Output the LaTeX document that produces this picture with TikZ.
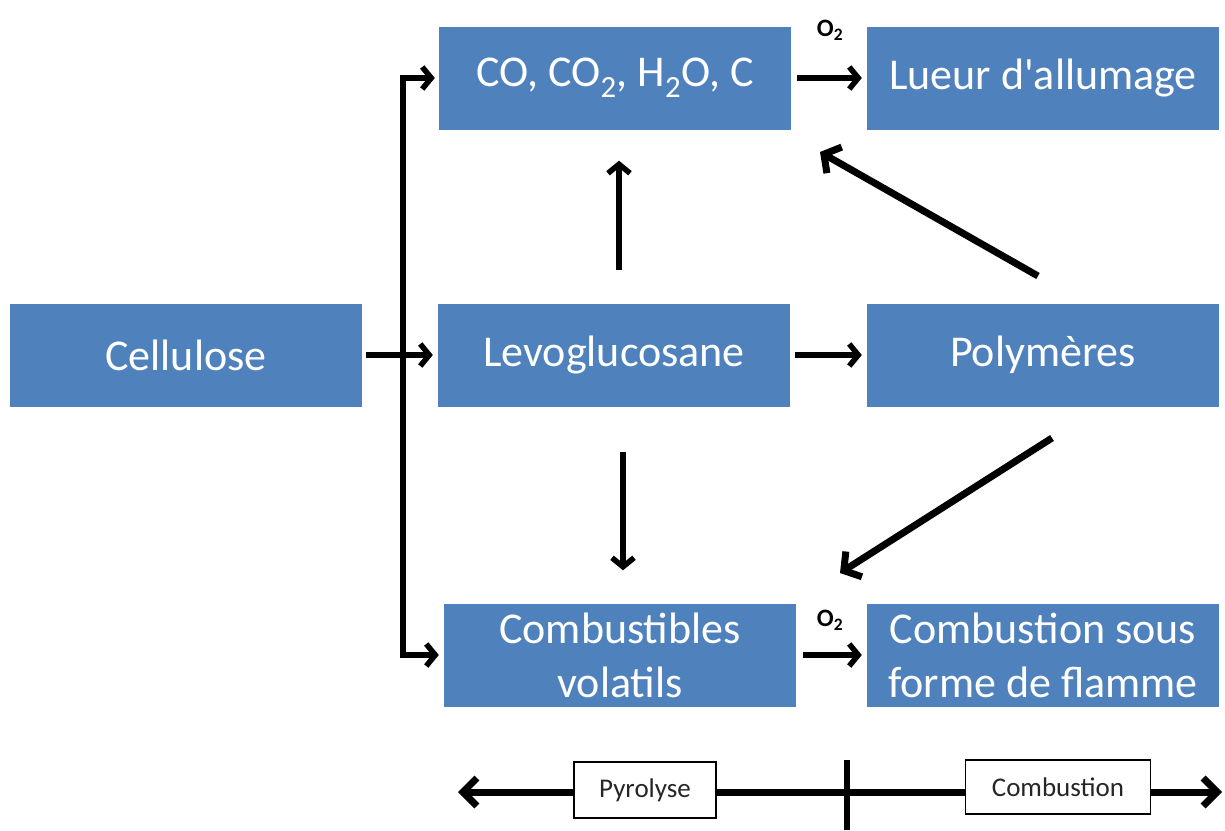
\documentclass[tikz,border=0pt]{standalone}
\usepackage{fontspec}
\setmainfont{Carlito}[Ligatures=TeXOff]
\usetikzlibrary{arrows.meta}
\definecolor{boxblue}{HTML}{4F81BD}
\tikzset{
  blk/.style={fill=boxblue, minimum width=352pt, minimum height=103pt, inner sep=0pt,
    text=white, font=\fontsize{44}{54}\selectfont, align=center},
  arr/.style={line width=5.5pt, -{Straight Barb[length=9pt,width=22pt]}},
  bigarr/.style={line width=7pt, -{Straight Barb[length=12pt,width=30pt]}},
  olab/.style={font=\fontsize{25}{27}\selectfont\bfseries, inner sep=0pt},
  phase/.style={draw=black, line width=1.5pt, fill=white, inner sep=0pt,
    text=black!85, font=\fontsize{27}{30}\selectfont},
}
\begin{document}
\begin{tikzpicture}[x=1pt,y=-1pt]
\useasboundingbox (0,0) rectangle (1225,830);
% boxes
\node[blk] (cel)  at (186,355) {Cellulose};
\node[blk] (co)   at (615,78)  {CO, CO\textsubscript{2}, H\textsubscript{2}O, C};
\node[blk] (lue)  at (1043,78) {Lueur d'allumage};
\node[blk] (levo) at (614,355) {Levoglucosane};
\node[blk] (poly) at (1043,355) {Polymères};
\node[blk] (cvol) at (620,655) {Combustibles\\volatils};
\node[blk] (cfl)  at (1043,655) {Combustion sous\\forme de flamme};
% O2 labels
\node[olab] (o2a) at (830,30)  {O\textsubscript{2}};
\node[olab] (o2b) at (830,620) {O\textsubscript{2}};
% connectors
\coordinate (jn) at (403,355);
\draw[arr, line join=miter, shorten >=4pt] (jn) |- (co.west);
\draw[arr, line join=miter, shorten >=5pt] (jn) |- (cvol.west);
\draw[arr, shorten <=4pt, shorten >=5pt] (cel.east) -- (levo.west);
\draw[arr, shorten <=6pt, shorten >=5pt] (co.east) -- (lue.west);
\draw[arr, shorten <=5pt, shorten >=5pt] (levo.east) -- (poly.west);
\draw[arr, shorten <=7pt, shorten >=5pt] (cvol.east) -- (cfl.west);
\draw[arr, shorten <=33pt, shorten >=31pt] ([xshift=5pt]levo.north) -- ([xshift=4pt]co.south);
\draw[arr, shorten <=45pt, shorten >=33pt] ([xshift=9pt]levo.south) -- ([xshift=3pt]cvol.north);
\coordinate (d1s) at (1038,276);
\coordinate (d1e) at (820,152);
\coordinate (d2s) at (1052,438);
\coordinate (d2e) at (840,573);
\draw[bigarr] (d1s) -- (d1e);
\draw[bigarr] (d2s) -- (d2e);
% bottom scale
\coordinate (bl) at (458,792);
\coordinate (br) at (1222,792);
\coordinate (tt) at (847,760);
\coordinate (tb) at (847,830);
\draw[line width=7pt, {Straight Barb[length=14pt,width=28pt]}-{Straight Barb[length=14pt,width=28pt]}] (bl) -- (br);
\draw[line width=5.5pt] (tt) -- (tb);
\node[phase, minimum width=142pt, minimum height=56pt] (pyr) at (645,790) {Pyrolyse};
\node[phase, minimum width=185pt, minimum height=54pt] (cmb) at (1058,787) {Combustion};
\end{tikzpicture}
\end{document}
